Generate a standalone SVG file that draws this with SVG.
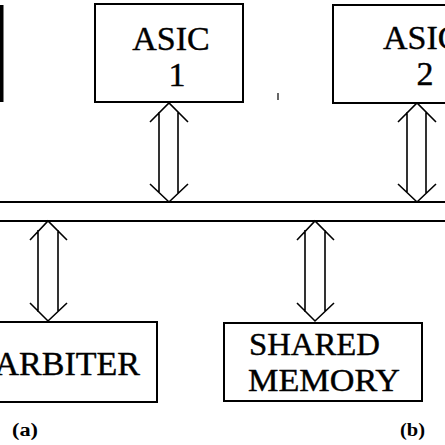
<svg xmlns="http://www.w3.org/2000/svg" width="445" height="445" viewBox="0 0 445 445">
<style>
.box{fill:#fff;stroke:#000;stroke-width:2}
.lbl{font-family:"Liberation Serif","Times New Roman",serif;fill:#000;stroke:#000;stroke-width:0.4}
.big{font-size:34px}
.mid{font-size:31px}
.cap{font-size:18px;font-weight:bold;stroke-width:0}
.arr{fill:none;stroke:#000;stroke-width:1.6;stroke-linejoin:miter}
.bus{stroke:#000;stroke-width:2.2}
</style>
<rect width="445" height="445" fill="#fff"/>
<g id="stub">
<rect x="0" y="5" width="3.5" height="97" fill="#000"/>
</g>
<g id="asic1">
<rect class="box" x="95" y="4" width="148" height="98"/>
<text class="lbl big" x="171" y="50" text-anchor="middle">ASIC</text>
<text class="lbl big" x="177" y="86" text-anchor="middle">1</text>
</g>
<g id="asic2">
<rect class="box" x="333" y="5" width="130" height="98"/>
<text class="lbl big" x="383" y="49">ASIC</text>
<text class="lbl big" x="425" y="85" text-anchor="middle">2</text>
</g>
<g id="arbiter">
<rect class="box" x="-20" y="322" width="177" height="80"/>
<text class="lbl big" x="140" y="375" text-anchor="end">ARBITER</text>
</g>
<g id="shared-memory">
<rect class="box" x="224" y="323" width="198" height="78"/>
<text class="lbl mid" x="249" y="355" textLength="131" lengthAdjust="spacingAndGlyphs">SHARED</text>
<text class="lbl mid" x="248" y="391" textLength="152" lengthAdjust="spacingAndGlyphs">MEMORY</text>
</g>
<g id="bus">
<line class="bus" x1="0" y1="202" x2="445" y2="202"/>
<line class="bus" x1="0" y1="221" x2="445" y2="221"/>
</g>
<g id="connectors">
<path class="arr" d="M150,122 L169,103 L188,122 M159,112 V193 M178,112 V193 M150,184 L169,202 L188,184"/>
<path class="arr" d="M398,122 L417,103 L436,122 M407,112 V193 M426,112 V193 M398,184 L417,202 L436,184"/>
<path class="arr" d="M30,240 L48,221 L67,240 M38,230 V312 M58,230 V312 M30,303 L48,321 L67,303"/>
<path class="arr" d="M297,240 L315,221 L334,240 M305,230 V312 M325,230 V312 M297,303 L315,321 L334,303"/>
</g>
<g id="captions">
<text class="lbl cap" x="12" y="436" textLength="26" lengthAdjust="spacingAndGlyphs">(a)</text>
<text class="lbl cap" x="400" y="436" textLength="25" lengthAdjust="spacingAndGlyphs">(b)</text>
<line x1="278" y1="93" x2="278" y2="100" stroke="#000" stroke-width="1.2"/>
</g>
</svg>
